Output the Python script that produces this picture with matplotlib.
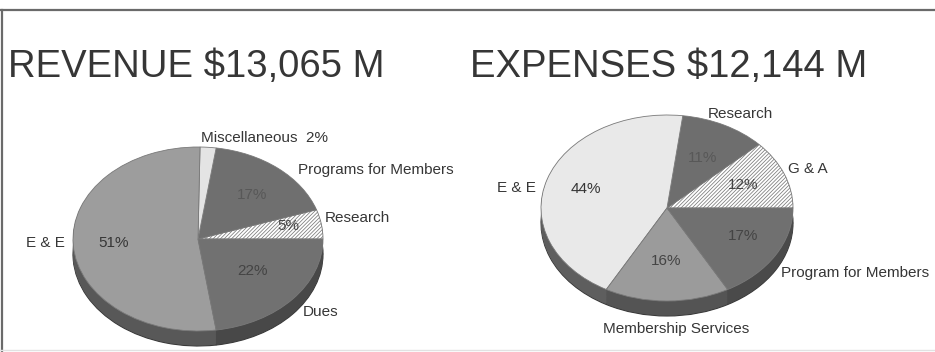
import matplotlib
matplotlib.use("Agg")
import matplotlib.pyplot as plt
from matplotlib.lines import Line2D

plt.rcParams['font.family'] = ['Liberation Sans', 'DejaVu Sans']
plt.rcParams['hatch.color'] = '#808080'
plt.rcParams['hatch.linewidth'] = 0.55

# ---- data ----
rev_title = "REVENUE $13,065 M"
rev_labels = ["Research", "Programs for Members", "Miscellaneous", "E & E", "Dues"]
rev_values = [5, 17, 2, 51, 22]
rev_colors = ["white", "#6f6f6f", "#e4e4e4", "#9d9d9d", "#717171"]
rev_side = ["#8a8a8a", "#4a4a4a", "#9a9a9a", "#585858", "#484848"]
rev_hatch = [True, False, False, False, False]

exp_title = "EXPENSES $12,144 M"
exp_labels = ["G & A", "Research", "E & E", "Membership Services", "Program for Members"]
exp_values = [12, 11, 44, 16, 17]
exp_colors = ["white", "#6e6e6e", "#e9e9e9", "#9b9b9b", "#707070"]
exp_side = ["#8a8a8a", "#4a4a4a", "#5e5e5e", "#545454", "#4a4a4a"]
exp_hatch = [True, False, False, False, False]

W, H = 935, 352
fig = plt.figure(figsize=(W / 100, H / 100), dpi=100)
fig.patch.set_facecolor('white')

TXT = '#363636'


def pie_axes(cx, cy, rx, ry):
    ax = fig.add_axes([0, 0, 1, 1], facecolor='none')
    ax.set_xlim(-cx / rx, (W - cx) / rx)
    ax.set_ylim(-(H - cy) / ry, cy / ry)
    ax.axis('off')
    return ax


def draw_pie(ax, values, colors, side, hatch, depth):
    n = 24
    for k in range(n, 0, -1):
        off = -depth * k / n
        ax.pie(values, colors=side, startangle=0, counterclock=True,
               center=(0, off), radius=1, frame=True,
               wedgeprops=dict(linewidth=0.8 if k == n else 0,
                               edgecolor='#3a3a3a'))
    wedges, _ = ax.pie(values, colors=colors, startangle=0, counterclock=True,
                       center=(0, 0), radius=1, frame=True,
                       wedgeprops=dict(linewidth=0.6, edgecolor='#7a7a7a'))
    for w, h in zip(wedges, hatch):
        if h:
            w.set_hatch('/////////')
    ax.set_aspect('auto')
    ax.axis('off')


def put(ax, cx, cy, rx, ry, px, py, s, ha='left', size=11, color=TXT):
    ax.text((px - cx) / rx, (cy - py) / ry, s, ha=ha, va='center',
            fontsize=size, color=color)


# Revenue pie
rcx, rcy, rrx, rry = 198, 239, 125, 92
axr = pie_axes(rcx, rcy, rrx, rry)
draw_pie(axr, rev_values, rev_colors, rev_side, rev_hatch, 15 / rry)
axr.set_xlim(-rcx / rrx, (W - rcx) / rrx)
axr.set_ylim(-(H - rcy) / rry, rcy / rry)
put(axr, rcx, rcy, rrx, rry, 201, 138, f"{rev_labels[2]}  {rev_values[2]}%")
put(axr, rcx, rcy, rrx, rry, 298, 170, rev_labels[1])
put(axr, rcx, rcy, rrx, rry, 325, 218, rev_labels[0])
put(axr, rcx, rcy, rrx, rry, 26, 243, rev_labels[3])
put(axr, rcx, rcy, rrx, rry, 303, 312, rev_labels[4])
put(axr, rcx, rcy, rrx, rry, 114, 243, f"{rev_values[3]}%", ha='center')
put(axr, rcx, rcy, rrx, rry, 252, 195, f"{rev_values[1]}%", ha='center', color='#585858')
put(axr, rcx, rcy, rrx, rry, 288, 226, f"{rev_values[0]}%", ha='center', color='#444444')
put(axr, rcx, rcy, rrx, rry, 253, 271, f"{rev_values[4]}%", ha='center', color='#444444')

# Expenses pie
ecx, ecy, erx, ery = 667, 208, 126, 93
axe = pie_axes(ecx, ecy, erx, ery)
draw_pie(axe, exp_values, exp_colors, exp_side, exp_hatch, 15 / ery)
axe.set_xlim(-ecx / erx, (W - ecx) / erx)
axe.set_ylim(-(H - ecy) / ery, ecy / ery)
put(axe, ecx, ecy, erx, ery, 708, 114, exp_labels[1])
put(axe, ecx, ecy, erx, ery, 788, 169, exp_labels[0])
put(axe, ecx, ecy, erx, ery, 497, 188, exp_labels[2])
put(axe, ecx, ecy, erx, ery, 781, 273, exp_labels[4])
put(axe, ecx, ecy, erx, ery, 603, 329, exp_labels[3])
put(axe, ecx, ecy, erx, ery, 586, 189, f"{exp_values[2]}%", ha='center')
put(axe, ecx, ecy, erx, ery, 703, 158, f"{exp_values[1]}%", ha='center', color='#585858')
put(axe, ecx, ecy, erx, ery, 743, 185, f"{exp_values[0]}%", ha='center', color='#444444')
put(axe, ecx, ecy, erx, ery, 743, 236, f"{exp_values[4]}%", ha='center', color='#444444')
put(axe, ecx, ecy, erx, ery, 666, 261, f"{exp_values[3]}%", ha='center', color='#444444')

# Titles
fig.text(8 / W, 1 - 77 / H, rev_title, fontsize=27.5, color=TXT, va='baseline', ha='left')
fig.text(470 / W, 1 - 77 / H, exp_title, fontsize=27.5, color=TXT, va='baseline', ha='left')

# Frame lines
fig.add_artist(Line2D([0, 1], [1 - 10 / H, 1 - 10 / H], transform=fig.transFigure,
                      color='#6a6a6a', linewidth=1.6))
fig.add_artist(Line2D([1.5 / W, 1.5 / W], [0, 1 - 10 / H], transform=fig.transFigure,
                      color='#6a6a6a', linewidth=1.6))
fig.add_artist(Line2D([0, 1], [2 / H, 2 / H], transform=fig.transFigure,
                      color='#e2e2e2', linewidth=1.0))

fig.savefig("out.png", dpi=100, facecolor='white')
